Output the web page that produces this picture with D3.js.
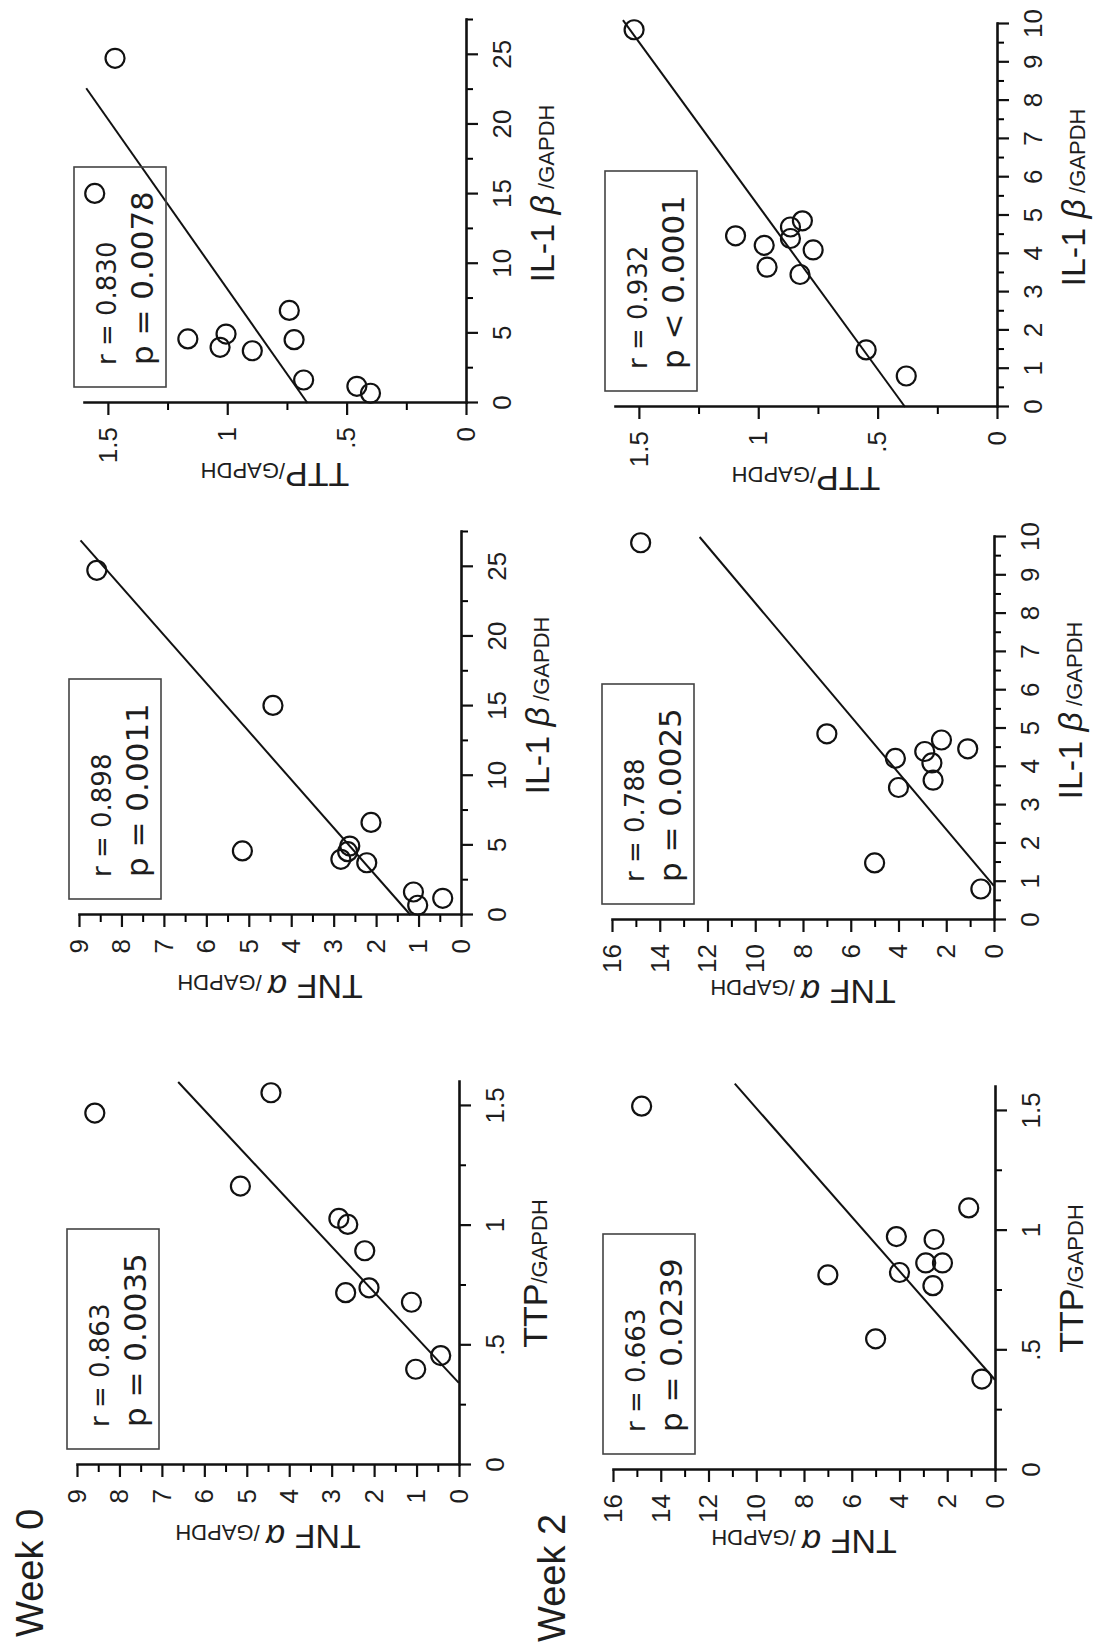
<!DOCTYPE html>
<html>
<head>
<meta charset="utf-8">
<script src="https://cdn.jsdelivr.net/npm/d3@7"></script>
<style>
  body { margin: 0; background: #fff; }
  svg text { font-family: "Liberation Sans", Arial, sans-serif; fill: #1e1e1e; }
  svg text.stat { font-family: "DejaVu Sans", sans-serif; }
</style>
</head>
<body>
<svg id="chart" width="1105" height="1646"></svg>
<script>
// ---- values (11 patients per week) ----
const week0IL  = [24.75, 15.05, 4.6, 6.65, 4.95, 4.55, 4.0, 3.75, 1.65, 0.7, 1.2];
const week0TTP = [1.47, 1.555, 1.165, 0.74, 1.005, 0.72, 1.03, 0.895, 0.68, 0.40, 0.457];
const week0TNF = [8.58, 4.43, 5.15, 2.12, 2.62, 2.67, 2.83, 2.22, 1.12, 1.02, 0.43];

const week2IL  = [9.85, 4.86, 1.49, 4.22, 3.46, 4.4, 3.65, 4.1, 4.7, 4.47, 0.81];
const week2TTP = [1.52, 0.815, 0.548, 0.975, 0.825, 0.865, 0.963, 0.77, 0.865, 1.095, 0.38];
const week2TNF = [14.8, 7.0, 5.0, 4.13, 4.0, 2.9, 2.55, 2.6, 2.2, 1.1, 0.55];

// regression lines (y = a + b*x), drawn between fitFrom and fitTo
const fitIntercept = [0.664, 1.19, -1.80, 0.385, -1.20, -3.32];
const fitSlope     = [0.041, 0.289, 5.26, 0.117, 1.353, 8.81];
const fitFrom      = [0, 0, 0.343, 0, 0.89, 0.377];
const fitTo        = [22.6, 26.9, 1.6, 10.1, 10, 1.614];

const rText = ["r = 0.830", "r = 0.898", "r = 0.863", "r = 0.932", "r = 0.788", "r = 0.663"];
const pText = ["p = 0.0078", "p = 0.0011", "p = 0.0035", "p < 0.0001", "p = 0.0025", "p = 0.0239"];

// tick values and labels
const ttpTicks  = [0, 0.5, 1, 1.5];
const ttpLabels = ["0", ".5", "1", "1.5"];
const ttpMinor  = [0.25, 0.75, 1.25];
const il0Ticks  = [0, 5, 10, 15, 20, 25];
const il0Labels = ["0", "5", "10", "15", "20", "25"];
const il0Minor  = [2.5, 7.5, 12.5, 17.5, 22.5, 27.5];
const il2Ticks  = [0, 1, 2, 3, 4, 5, 6, 7, 8, 9, 10];
const il2Labels = ["0", "1", "2", "3", "4", "5", "6", "7", "8", "9", "10"];
const il2Minor  = [0.5, 1.5, 2.5, 3.5, 4.5, 5.5, 6.5, 7.5, 8.5, 9.5];
const tnf0Ticks  = [0, 1, 2, 3, 4, 5, 6, 7, 8, 9];
const tnf0Labels = ["0", "1", "2", "3", "4", "5", "6", "7", "8", "9"];
const tnf0Minor  = [0.5, 1.5, 2.5, 3.5, 4.5, 5.5, 6.5, 7.5, 8.5];
const tnf2Ticks  = [0, 2, 4, 6, 8, 10, 12, 14, 16];
const tnf2Labels = ["0", "2", "4", "6", "8", "10", "12", "14", "16"];
const tnf2Minor  = [1, 3, 5, 7, 9, 11, 13, 15];

const weekLabels = ["Week 0", "Week 2"];

// axis definitions
const axes = {
  ttp:  { domain: [0, 1.6], ticks: ttpTicks, labels: ttpLabels, minor: ttpMinor, name: "TTP", greek: "" , shift: 0 },
  il0:  { domain: [0, 27.5], ticks: il0Ticks, labels: il0Labels, minor: il0Minor, name: "IL-1 ", greek: "β", shift: 18 },
  il2:  { domain: [0, 10], ticks: il2Ticks, labels: il2Labels, minor: il2Minor, name: "IL-1 ", greek: "β", shift: 18 },
  tnf0: { domain: [0, 9], ticks: tnf0Ticks, labels: tnf0Labels, minor: tnf0Minor, name: "TNF ", greek: "α", shift: 0 },
  tnf2: { domain: [0, 16], ticks: tnf2Ticks, labels: tnf2Labels, minor: tnf2Minor, name: "TNF ", greek: "α", shift: 0 }
};

// the figure is printed turned a quarter turn; each panel is drawn upright then rotated
const panels = [
  { x: "il0", y: "ttp",  xv: week0IL,  yv: week0TTP, left: 84,  bottom: 403 },
  { x: "il0", y: "tnf0", xv: week0IL,  yv: week0TNF, left: 79,  bottom: 915 },
  { x: "ttp", y: "tnf0", xv: week0TTP, yv: week0TNF, left: 77,  bottom: 1465 },
  { x: "il2", y: "ttp",  xv: week2IL,  yv: week2TTP, left: 615, bottom: 407 },
  { x: "il2", y: "tnf2", xv: week2IL,  yv: week2TNF, left: 612, bottom: 920 },
  { x: "ttp", y: "tnf2", xv: week2TTP, yv: week2TNF, left: 613, bottom: 1470 }
];

const svg = d3.select("#chart");
const W = 383, H = 382;

function addTitle(sel, ax) {
  sel.append("tspan").attr("font-size", 34).text(ax.name);
  if (ax.greek) {
    sel.append("tspan").attr("font-size", 34).attr("font-style", "italic").text(ax.greek);
    sel.append("tspan").attr("font-size", 22).text(" /GAPDH");
  } else {
    sel.append("tspan").attr("font-size", 22).text("/GAPDH");
  }
}

panels.forEach((p, i) => {
  const ax = axes[p.x], ay = axes[p.y];
  const g = svg.append("g")
    .attr("transform", `translate(${p.left},${p.bottom}) rotate(-90)`);

  const x = d3.scaleLinear().domain(ax.domain).range([0, W]);
  const y = d3.scaleLinear().domain(ay.domain).range([H, 0]);

  // minor ticks
  g.append("g").attr("transform", `translate(0,${H})`)
    .call(d3.axisBottom(x).tickValues(ax.minor).tickSize(7).tickFormat(""))
    .call(s => s.select(".domain").remove())
    .selectAll(".tick line").attr("stroke-width", 2);
  g.append("g")
    .call(d3.axisLeft(y).tickValues(ay.minor).tickSize(7).tickFormat(""))
    .call(s => s.select(".domain").remove())
    .selectAll(".tick line").attr("stroke-width", 2);

  // major ticks + axis lines
  const xa = g.append("g").attr("transform", `translate(0,${H})`)
    .call(d3.axisBottom(x).tickValues(ax.ticks).tickFormat((d, j) => ax.labels[j])
      .tickSize(12).tickSizeOuter(0).tickPadding(15));
  const ya = g.append("g")
    .call(d3.axisLeft(y).tickValues(ay.ticks).tickFormat((d, j) => ay.labels[j])
      .tickSize(12).tickSizeOuter(0).tickPadding(12));
  [xa, ya].forEach(a => {
    a.select(".domain").attr("stroke", "#111").attr("stroke-width", 2.6).attr("stroke-linecap", "square");
    a.selectAll(".tick line").attr("stroke", "#111").attr("stroke-width", 2.2);
    a.selectAll(".tick text").attr("font-size", 26).attr("fill", "#1e1e1e");
  });

  // regression line
  g.append("line")
    .attr("x1", x(fitFrom[i])).attr("y1", y(fitIntercept[i] + fitSlope[i] * fitFrom[i]))
    .attr("x2", x(fitTo[i])).attr("y2", y(fitIntercept[i] + fitSlope[i] * fitTo[i]))
    .attr("stroke", "#111").attr("stroke-width", 2);

  // points
  g.selectAll("circle")
    .data(p.xv.map((v, j) => [v, p.yv[j]]))
    .join("circle")
    .attr("cx", d => x(d[0]))
    .attr("cy", d => y(d[1]))
    .attr("r", 9.5)
    .attr("fill", "none")
    .attr("stroke", "#111")
    .attr("stroke-width", 2.2);

  // r / p box
  g.append("rect")
    .attr("x", 16).attr("y", -10).attr("width", 220).attr("height", 92)
    .attr("fill", "none").attr("stroke", "#444").attr("stroke-width", 1.6);
  g.append("text").attr("class", "stat").attr("x", 38).attr("y", 32)
    .attr("font-size", 26).text(rText[i]);
  g.append("text").attr("class", "stat").attr("x", 38).attr("y", 69)
    .attr("font-size", 31).text(pText[i]);

  // axis titles
  addTitle(g.append("text")
    .attr("x", W / 2 + ax.shift).attr("y", H + 88)
    .attr("text-anchor", "middle"), ax);
  addTitle(g.append("text")
    .attr("transform", `translate(-60,${H / 2}) rotate(-90)`)
    .attr("text-anchor", "middle"), ay);
});

// week labels
svg.append("text").attr("transform", "translate(43,1637) rotate(-90)")
  .attr("font-size", 38).text(weekLabels[0]);
svg.append("text").attr("transform", "translate(565,1642) rotate(-90)")
  .attr("font-size", 38).text(weekLabels[1]);
</script>
</body>
</html>
